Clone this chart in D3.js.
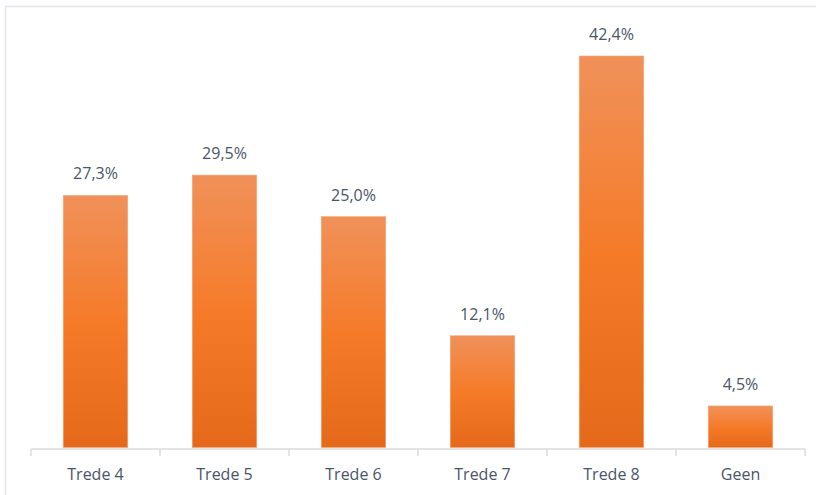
<!DOCTYPE html>
<html>
<head>
<meta charset="utf-8">
<script src="https://cdn.jsdelivr.net/npm/d3@7"></script>
<style>
  body { margin: 0; background: #fff; }
  svg { display: block; }
  text { font-family: "Open Sans", "Noto Sans", sans-serif; }
</style>
</head>
<body>
<div id="chart"></div>
<script>
// chart data
var categories = ['Trede 4', 'Trede 5', 'Trede 6', 'Trede 7', 'Trede 8', 'Geen'];
var values = [27.3, 29.5, 25.0, 12.1, 42.4, 4.5];

var width = 816, height = 495;
var margin = {top: 56, left: 31, right: 11, bottom: 47};

var svg = d3.select('#chart').append('svg')
  .attr('width', width)
  .attr('height', height);

// bar gradient
var grad = svg.append('defs').append('linearGradient')
  .attr('id', 'barfill')
  .attr('x1', 0).attr('y1', 0).attr('x2', 0).attr('y2', 1);
grad.append('stop').attr('offset', '0%').attr('stop-color', '#f0915a');
grad.append('stop').attr('offset', '50%').attr('stop-color', '#f57b29');
grad.append('stop').attr('offset', '100%').attr('stop-color', '#e4691a');

// light frame (top + left)
svg.append('line').attr('x1', 5).attr('x2', width).attr('y1', 6.5).attr('y2', 6.5)
  .attr('stroke', '#e3e6ea').attr('stroke-width', 1.5);
svg.append('line').attr('x1', 5.5).attr('x2', 5.5).attr('y1', 6).attr('y2', height)
  .attr('stroke', '#e3e6ea').attr('stroke-width', 1.5);

var baseY = height - margin.bottom - 0.5;

var x = d3.scaleBand()
  .domain(categories)
  .range([margin.left, width - margin.right])
  .paddingInner(0.5)
  .paddingOuter(0.25);

var y = d3.scaleLinear()
  .domain([0, 42.4])
  .range([baseY, margin.top]);

svg.selectAll('rect.bar')
  .data(values)
  .enter().append('rect')
  .attr('class', 'bar')
  .attr('x', function(d, i) { return x(categories[i]); })
  .attr('y', function(d) { return y(d); })
  .attr('width', x.bandwidth())
  .attr('height', function(d) { return baseY - y(d); })
  .attr('fill', 'url(#barfill)')
  .attr('stroke', '#f4a678')
  .attr('stroke-width', 0.6);

// value labels
svg.selectAll('text.val')
  .data(values)
  .enter().append('text')
  .attr('class', 'val')
  .attr('x', function(d, i) { return x(categories[i]) + x.bandwidth() / 2; })
  .attr('y', function(d) { return y(d) - 16; })
  .attr('text-anchor', 'middle')
  .attr('font-size', 16)
  .attr('fill', '#4a5568')
  .text(function(d) { return d.toFixed(1).replace('.', ',') + '%'; });

// x axis with ticks between categories
var axis = svg.append('g').attr('transform', 'translate(0,' + (height - margin.bottom + 1) + ')');
axis.append('line')
  .attr('x1', margin.left).attr('x2', width - margin.right)
  .attr('stroke', '#d9dce1').attr('stroke-width', 1.5);
var step = x.step();
var edges = d3.range(categories.length + 1).map(function(i) {
  return margin.left + i * step;
});
axis.selectAll('line.tick')
  .data(edges)
  .enter().append('line')
  .attr('class', 'tick')
  .attr('x1', function(d) { return d; }).attr('x2', function(d) { return d; })
  .attr('y1', 0).attr('y2', 7)
  .attr('stroke', '#d9dce1').attr('stroke-width', 1.5);
axis.selectAll('text')
  .data(categories)
  .enter().append('text')
  .attr('x', function(d) { return x(d) + x.bandwidth() / 2; })
  .attr('y', 31)
  .attr('text-anchor', 'middle')
  .attr('font-size', 16)
  .attr('fill', '#4a5568')
  .text(function(d) { return d; });
</script>
</body>
</html>
